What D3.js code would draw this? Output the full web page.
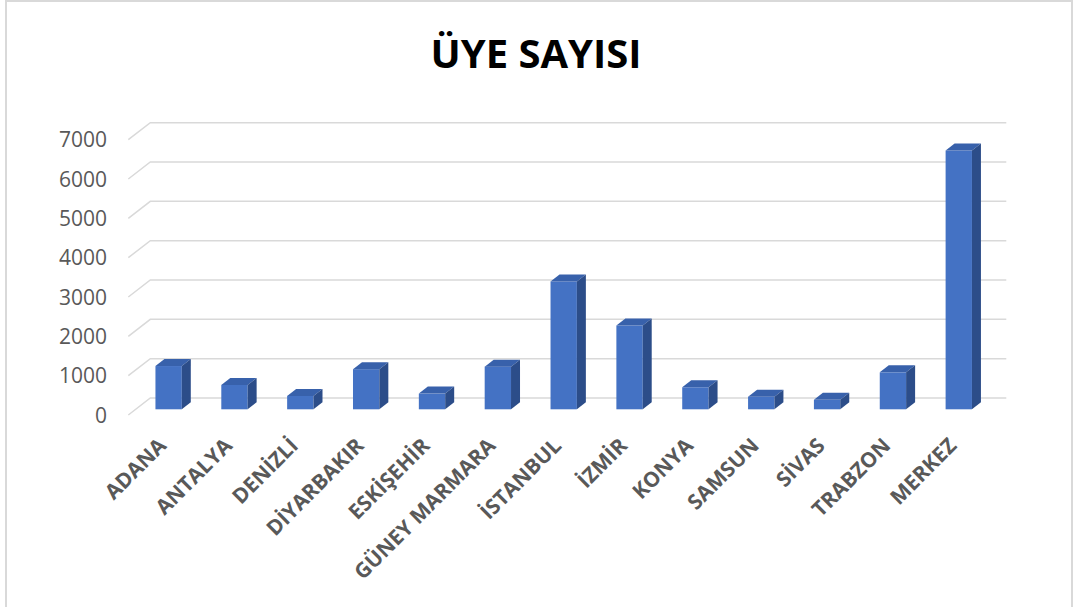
<!DOCTYPE html>
<html lang="tr">
  <head>
    <meta charset="UTF-8" />
    <title>üye sayısı</title>
    <script src="https://cdn.jsdelivr.net/npm/d3@7"></script>
    <style>
      body {
        margin: 0;
        background: #ffffff;
      }
      text {
        font-family: "Open Sans", "Noto Sans", sans-serif;
      }
    </style>
  </head>
  <body>
    <svg id="chart" width="1083" height="607"></svg>
    <script>
      // data
      let categories = [
        "ADANA",
        "ANTALYA",
        "DENİZLİ",
        "DİYARBAKIR",
        "ESKİŞEHİR",
        "GÜNEY MARMARA",
        "İSTANBUL",
        "İZMİR",
        "KONYA",
        "SAMSUN",
        "SİVAS",
        "TRABZON",
        "MERKEZ",
      ];
      let members = [1100, 620, 340, 1020, 400, 1085, 3250, 2130, 560, 320, 240, 940, 6580];
      let yTicks = [0, 1000, 2000, 3000, 4000, 5000, 6000, 7000];
      let title = "ÜYE SAYISI";

      let svg = d3.select("#chart");

      // chart frame
      svg
        .append("rect")
        .attr("x", 6)
        .attr("y", 1)
        .attr("width", 1066)
        .attr("height", 640)
        .attr("fill", "#ffffff")
        .attr("stroke", "#d9d9d9")
        .attr("stroke-width", 2);

      svg
        .append("text")
        .attr("x", 536)
        .attr("y", 68)
        .attr("text-anchor", "middle")
        .attr("font-size", 40)
        .attr("font-weight", "bold")
        .attr("fill", "#000000")
        .text(title);

      // front plane of the 3d box, depth goes back/up
      let x0 = 128.3,
        x1 = 984.3;
      let depth = { dx: 22, dy: -17 };
      let barOff = { dx: 7.4, dy: -5.7 };
      let barDepth = { dx: 9, dy: -7 };

      let x = d3
        .scaleBand()
        .domain(categories)
        .range([x0, x1])
        .paddingInner(0.6)
        .paddingOuter(0.3);
      let y = d3.scaleLinear().domain([0, 7000]).range([415, 139.7]);

      // gridlines with the little diagonal on the floor side
      svg
        .append("g")
        .selectAll("path")
        .data(yTicks)
        .join("path")
        .attr("d", (d) => {
          let p = d3.path();
          p.moveTo(x0, y(d));
          p.lineTo(x0 + depth.dx, y(d) + depth.dy);
          p.lineTo(x1 + depth.dx, y(d) + depth.dy);
          return p.toString();
        })
        .attr("fill", "none")
        .attr("stroke", "#d9d9d9")
        .attr("stroke-width", 1.5);

      svg
        .append("g")
        .selectAll("text")
        .data(yTicks)
        .join("text")
        .attr("x", 107)
        .attr("y", (d) => y(d))
        .attr("dy", "0.36em")
        .attr("text-anchor", "end")
        .attr("font-size", 21)
        .attr("fill", "#595959")
        .text((d) => d);

      // bars: front, top, side
      let bars = svg
        .append("g")
        .selectAll("g")
        .data(categories.map((c, i) => ({ name: c, value: members[i] })))
        .join("g");

      let xl = (d) => x(d.name) + barOff.dx;
      let xr = (d) => x(d.name) + x.bandwidth() + barOff.dx;
      let yb = () => y(0) + barOff.dy;
      let yt = (d) => y(d.value) + barOff.dy;

      bars
        .append("rect")
        .attr("x", xl)
        .attr("y", yt)
        .attr("width", x.bandwidth())
        .attr("height", (d) => yb() - yt(d))
        .attr("fill", "#4472c4");

      bars
        .append("polygon")
        .attr("points", (d) =>
          [
            [xl(d), yt(d)],
            [xl(d) + barDepth.dx, yt(d) + barDepth.dy],
            [xr(d) + barDepth.dx, yt(d) + barDepth.dy],
            [xr(d), yt(d)],
          ].join(" ")
        )
        .attr("fill", "#3861ab");

      bars
        .append("polygon")
        .attr("points", (d) =>
          [
            [xr(d), yb()],
            [xr(d), yt(d)],
            [xr(d) + barDepth.dx, yt(d) + barDepth.dy],
            [xr(d) + barDepth.dx, yb() + barDepth.dy],
          ].join(" ")
        )
        .attr("fill", "#2c4d89");

      // category labels at -45deg
      svg
        .append("g")
        .selectAll("text")
        .data(categories)
        .join("text")
        .attr("transform", (d) => {
          let cx = x(d) + x.bandwidth() / 2 + barOff.dx - 1;
          return "translate(" + cx + ",447) rotate(-45)";
        })
        .attr("text-anchor", "end")
        .attr("font-size", 21)
        .attr("font-weight", "bold")
        .attr("fill", "#595959")
        .text((d) => d);
    </script>
  </body>
</html>
